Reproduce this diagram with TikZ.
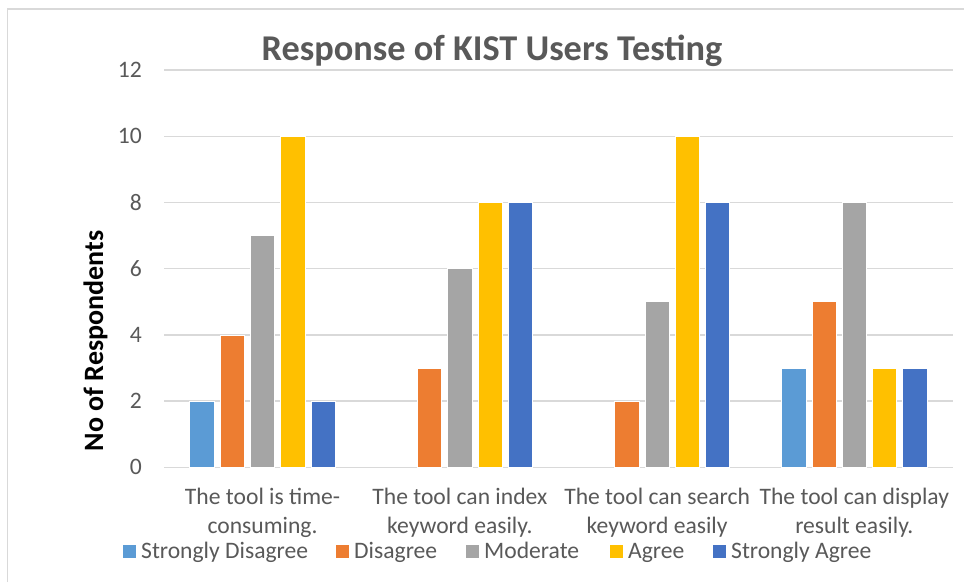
\documentclass[tikz,border=0pt]{standalone}
\usepackage{fontspec}
\setmainfont{Carlito}
\definecolor{txt}{HTML}{595959}
\definecolor{grid}{HTML}{D9D9D9}
\definecolor{c1}{HTML}{5B9BD5}
\definecolor{c2}{HTML}{ED7D31}
\definecolor{c3}{HTML}{A5A5A5}
\definecolor{c4}{HTML}{FFC000}
\definecolor{c5}{HTML}{4472C4}
\begin{document}
\begin{tikzpicture}[x=1pt,y=-1pt,
  lbl/.style={inner sep=0pt, text=txt, font=\fontsize{23.6}{28}\selectfont},
  ttl/.style={inner sep=0pt, text=txt, font=\fontsize{36.3}{42}\selectfont\bfseries},
  ylab/.style={inner sep=0pt, text=black, font=\fontsize{28}{32}\selectfont\bfseries},
  gridline/.style={draw=grid, line width=1.5pt},
  bar/.style={draw=white, line width=0.8pt},
  legsq/.style={inner sep=0pt, minimum size=13pt, draw=none}]
\useasboundingbox (0,0) rectangle (964,582);
\fill[white] (0,0) rectangle (964,582);
% frame
\draw[draw=grid, line width=1.8pt] (7.5,582) -- (7.5,9) -- (964,9);
% gridlines and tick labels
\foreach \v in {0,2,...,12}{
  \draw[gridline] (164,467.3-33.1*\v) -- (953,467.3-33.1*\v);
  \node[lbl, anchor=east] (tick\v) at (142,467.3-33.1*\v) {\v};
}
% bars
\foreach \g/\vals in {0/{2,4,7,10,2},1/{0,3,6,8,8},2/{0,2,5,10,8},3/{3,5,8,3,3}}{
  \foreach \v [count=\k] in \vals {
    \pgfmathsetmacro\cx{262.6+197.25*\g+(\k-3)*30.3}
    \ifnum\v>0
      \draw[bar, fill=c\k] (\cx-12.15,467.3) rectangle (\cx+12.15,467.3-33.1*\v);
    \fi
  }
}
% title
\node[ttl, anchor=base] (title) at (492,60) {Response of KIST Users Testing};
% y label
\node[ylab, anchor=base, rotate=90] (ylabel) at (103,341) {No of Respondents};
% category labels
\node[lbl, anchor=base] (c1a) at (262.6,504) {The tool is time-};
\node[lbl, anchor=base] (c1b) at (262.6,533) {consuming.};
\node[lbl, anchor=base] (c2a) at (459.85,504) {The tool can index};
\node[lbl, anchor=base] (c2b) at (459.85,533) {keyword easily.};
\node[lbl, anchor=base] (c3a) at (657.1,504) {The tool can search};
\node[lbl, anchor=base] (c3b) at (657.1,533) {keyword easily};
\node[lbl, anchor=base] (c4a) at (854.35,504) {The tool can display};
\node[lbl, anchor=base] (c4b) at (854.35,533) {result easily.};
% legend
\foreach \i/\sx/\name in {1/123/Strongly Disagree,2/336/Disagree,3/466/Moderate,4/610/Agree,5/713/Strongly Agree}{
  \node[legsq, fill=c\i, anchor=north west] (sq\i) at (\sx,545) {};
  \node[lbl, anchor=base west] (leg\i) at (\sx+18,558) {\name};
}
\end{tikzpicture}
\end{document}
